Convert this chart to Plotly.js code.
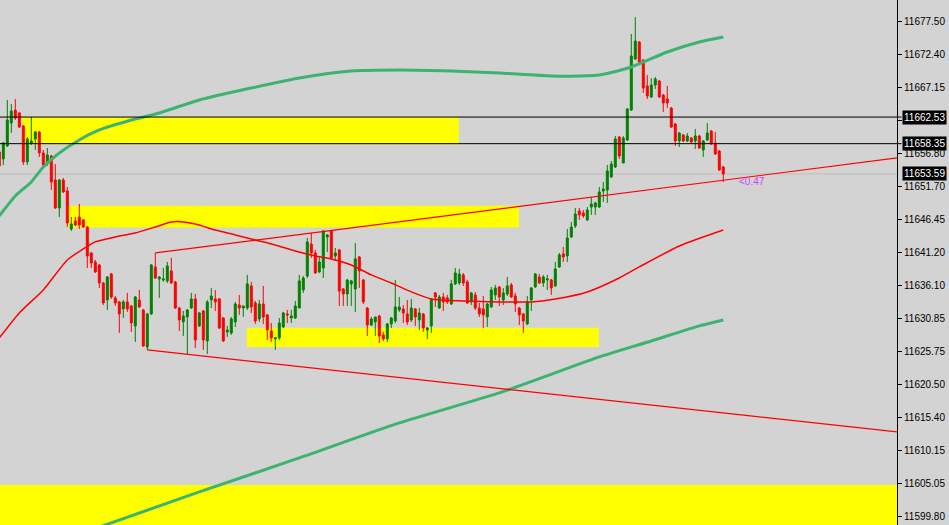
<!DOCTYPE html>
<html>
<head>
<meta charset="utf-8">
<script src="https://cdn.plot.ly/plotly-3.0.1.min.js"></script>
<style>
html,body{margin:0;padding:0;background:#d3d3d3;}
#chart{width:949px;height:525px;}
</style>
</head>
<body>
<div id="chart"></div>
<script>
// ---- candle data (index -1 .. 180) ----
const firstIndex = -1;
const open = [11657.05,11655.95,11657.99,11661.60,11663.64,11663.17,11661.13,11655.48,11658.46,11659.09,
11660.19,11656.90,11655.16,11656.42,11652.65,11648.25,11652.65,11650.92,11644.96,11646.21,
11646.84,11646.37,11645.27,11641.19,11639.78,11639.30,11636.48,11633.81,11637.89,11634.13,
11633.50,11632.40,11633.50,11632.87,11629.73,11633.81,11632.24,11626.43,11631.61,11638.99,
11637.11,11636.95,11636.80,11638.37,11636.64,11632.55,11630.36,11631.14,11632.55,11633.97,
11629.73,11632.08,11627.37,11633.81,11633.97,11633.97,11630.98,11628.79,11628.63,11630.36,
11633.02,11632.55,11632.55,11636.01,11633.34,11630.83,11633.18,11631.46,11628.94,11627.69,
11627.85,11629.57,11631.61,11630.98,11630.98,11632.55,11635.38,11637.57,11642.60,11641.19,
11638.21,11638.84,11643.70,11644.64,11640.72,11641.66,11635.54,11634.75,11636.33,11635.54,
11640.56,11636.95,11632.55,11629.88,11630.36,11631.30,11628.32,11627.69,11630.04,11630.51,
11632.24,11632.40,11631.61,11630.67,11632.40,11630.67,11631.61,11629.10,11629.73,11634.91,
11632.55,11634.28,11634.13,11633.18,11636.33,11636.48,11637.74,11636.64,11633.50,11634.60,
11632.55,11632.40,11631.14,11632.71,11634.60,11635.85,11633.81,11634.75,11636.17,11634.44,
11632.55,11631.61,11630.04,11633.81,11635.85,11637.42,11636.48,11636.95,11636.95,11636.01,
11638.99,11641.03,11640.72,11643.70,11645.43,11647.78,11647.47,11646.37,11648.41,11648.41,
11648.41,11650.92,11651.08,11653.12,11654.69,11659.40,11655.32,11658.93,11663.64,11671.65,
11674.32,11671.49,11667.41,11665.68,11667.56,11668.19,11665.99,11665.37,11663.95,11661.44,
11658.77,11659.72,11658.77,11659.24,11658.77,11659.56,11657.36,11658.93,11660.34,11658.46,
11657.20,11654.69];
const high = [11657.36,11658.62,11665.21,11664.58,11665.37,11663.33,11661.28,11659.40,11662.54,11660.34,
11660.34,11657.36,11657.67,11656.58,11655.16,11652.81,11652.97,11651.55,11646.84,11646.84,
11648.88,11646.53,11645.43,11641.35,11640.09,11639.46,11636.64,11637.57,11638.05,11634.44,
11633.65,11633.81,11634.91,11633.02,11634.44,11635.38,11632.40,11631.77,11639.46,11641.19,
11637.57,11638.84,11639.78,11640.41,11636.80,11632.71,11632.08,11632.40,11634.91,11634.75,
11631.93,11632.24,11633.81,11635.69,11635.38,11634.13,11631.14,11629.73,11631.14,11633.50,
11634.60,11632.87,11637.74,11636.64,11633.65,11633.81,11636.01,11631.61,11630.20,11628.00,
11630.98,11631.93,11632.24,11632.24,11633.65,11637.74,11637.57,11643.54,11644.33,11641.66,
11640.56,11644.80,11644.17,11644.80,11641.97,11641.82,11635.69,11637.11,11636.95,11642.76,
11640.72,11637.11,11632.71,11631.14,11631.14,11631.46,11628.79,11630.20,11631.14,11636.95,
11634.28,11633.02,11633.81,11633.97,11632.55,11632.55,11631.77,11629.57,11634.13,11635.07,
11634.60,11634.91,11634.60,11636.95,11638.84,11638.68,11638.05,11636.95,11635.07,11635.07,
11633.34,11634.44,11633.34,11635.85,11636.17,11636.01,11635.69,11637.42,11636.48,11634.91,
11632.71,11631.77,11634.44,11635.85,11638.05,11637.89,11637.74,11637.74,11637.11,11639.78,
11641.19,11642.13,11644.96,11646.06,11648.25,11648.25,11647.94,11648.41,11649.98,11649.20,
11651.55,11652.34,11655.00,11655.63,11659.56,11659.56,11659.56,11663.95,11675.57,11678.24,
11674.47,11671.65,11669.13,11668.66,11668.82,11668.35,11666.15,11667.41,11664.11,11661.60,
11660.19,11659.87,11660.03,11659.40,11660.66,11659.72,11658.93,11661.60,11660.50,11660.19,
11657.36,11654.85];
const low = [11654.53,11655.00,11657.83,11660.03,11662.07,11660.81,11655.00,11655.00,11658.14,11657.36,
11656.26,11654.53,11654.85,11651.08,11648.10,11646.84,11650.61,11645.27,11644.64,11645.43,
11644.96,11645.11,11638.84,11638.84,11638.05,11635.69,11633.02,11632.24,11633.97,11632.87,
11628.63,11630.98,11631.93,11628.79,11627.22,11632.55,11626.43,11625.96,11631.46,11637.11,
11634.13,11636.64,11636.48,11636.33,11632.40,11628.94,11628.16,11625.17,11632.40,11626.27,
11629.57,11625.96,11625.33,11632.55,11632.08,11629.26,11627.22,11628.00,11628.32,11629.57,
11631.46,11631.14,11632.24,11631.77,11630.04,11630.36,11630.04,11627.53,11627.22,11625.96,
11627.53,11629.41,11630.20,11630.20,11630.83,11632.55,11634.91,11637.26,11640.41,11637.89,
11638.05,11637.26,11641.35,11640.25,11639.93,11632.87,11632.87,11632.87,11632.87,11631.93,
11635.69,11633.18,11628.16,11629.73,11628.16,11627.06,11627.37,11627.22,11629.41,11630.20,
11631.93,11630.20,11629.88,11630.36,11629.73,11629.10,11628.79,11627.69,11628.63,11632.71,
11632.40,11632.08,11633.18,11633.02,11636.17,11636.17,11636.01,11633.18,11633.02,11632.24,
11631.14,11629.41,11629.57,11632.55,11633.81,11632.87,11633.02,11634.44,11634.13,11631.93,
11629.88,11628.63,11629.88,11632.08,11635.69,11636.33,11635.85,11635.38,11634.60,11635.85,
11638.84,11639.78,11639.78,11643.54,11645.11,11646.37,11646.69,11646.21,11647.16,11647.16,
11648.25,11649.20,11649.04,11652.97,11654.53,11655.95,11655.32,11658.77,11663.48,11671.49,
11671.02,11666.31,11665.37,11665.52,11666.94,11665.52,11663.33,11663.95,11660.81,11657.99,
11657.83,11658.62,11658.62,11658.46,11657.52,11657.52,11656.26,11658.77,11658.14,11656.58,
11654.06,11652.34];
const close = [11654.85,11658.46,11662.07,11663.48,11662.38,11660.97,11655.48,11659.09,11658.77,11660.19,
11656.90,11655.00,11656.58,11652.34,11648.25,11652.65,11650.77,11645.90,11645.74,11645.58,
11645.58,11645.27,11640.72,11639.62,11638.21,11636.48,11633.34,11637.42,11634.28,11633.34,
11631.61,11633.50,11632.40,11630.20,11634.28,11632.71,11626.59,11631.61,11639.30,11637.26,
11637.42,11637.11,11639.15,11636.48,11632.55,11630.67,11631.30,11632.24,11633.97,11627.53,
11631.77,11627.53,11633.50,11634.44,11633.50,11629.41,11627.37,11629.10,11630.83,11633.18,
11632.55,11632.87,11636.33,11632.71,11630.51,11633.18,11631.14,11629.10,11627.85,11627.85,
11630.20,11631.77,11631.46,11631.30,11632.87,11636.80,11637.26,11642.92,11641.19,11638.05,
11639.78,11644.64,11644.02,11640.41,11641.19,11635.22,11634.75,11636.95,11636.80,11640.25,
11638.37,11633.50,11629.88,11630.83,11631.14,11628.16,11627.69,11630.04,11630.98,11632.71,
11632.71,11631.77,11630.36,11632.55,11631.14,11631.77,11629.41,11629.41,11633.97,11634.28,
11634.28,11633.50,11633.50,11636.33,11638.05,11637.89,11636.48,11633.34,11634.91,11632.55,
11631.61,11631.46,11633.18,11635.38,11635.69,11634.28,11634.91,11636.01,11634.28,11633.18,
11631.46,11630.51,11633.50,11635.69,11637.89,11636.48,11637.42,11637.11,11635.69,11638.68,
11640.88,11640.56,11643.54,11645.27,11647.31,11647.16,11647.00,11647.94,11648.88,11649.04,
11650.77,11651.24,11654.06,11655.16,11659.09,11656.42,11659.24,11663.80,11672.12,11674.47,
11671.18,11667.09,11665.84,11667.56,11668.51,11665.68,11664.74,11664.74,11660.97,11658.77,
11660.03,11658.77,11659.56,11658.62,11659.56,11657.67,11658.77,11660.03,11658.30,11656.73,
11654.22,11653.59];

// ---- moving averages (read at sampled candle indices) ----
const maSlowIdx = [-1,3,7,10,14,19,24,32,39,49,62,74,87,99,112,124,137,149,157,166,174,180];
const maSlowVal = [11647.00,11650.14,11652.34,11654.69,11656.89,11658.93,11660.50,11662.07,11663.17,11665.21,
11667.09,11668.66,11669.76,11669.92,11669.76,11669.45,11668.98,11669.13,11670.39,11672.75,11674.32,11675.10];
const maMidIdx = [-1,4,10,16,20,23,28,33,38,42,45,48,53,58,63,68,73,78,82,87,92,97,102,107,115,124,132,138,146,154,159,169,180];
const maMidVal = [11627.84,11631.77,11635.38,11640.09,11641.82,11642.92,11643.70,11644.33,11645.27,11646.06,
11646.06,11645.74,11644.80,11644.02,11643.23,11642.44,11641.50,11640.72,11640.25,11639.30,11637.74,11636.48,
11635.07,11633.97,11633.65,11633.50,11633.50,11633.97,11635.07,11637.26,11638.99,11642.29,11644.80];
const maLongIdx = [22,49,74,99,124,149,162,174,180];
const maLongVal = [11597.70,11603.67,11609.00,11614.50,11619.21,11624.86,11627.37,11629.73,11630.67];

// ---- trend channel ----
const upperTrendIdx = [38,224];
const upperTrendVal = [11641.19,11656.15];
const lowerTrendIdx = [36,224];
const lowerTrendVal = [11625.96,11613.05];

// ---- zones (index range, price range) ----
const zoneFrom = [4.7,16.2,60.9,-3];
const zoneTo = [113.9,128.9,148.9,230];
const zoneTop = [11662.53,11648.61,11629.46,11604.76];
const zoneBottom = [11658.35,11645.17,11626.43,11590.00];

// ---- horizontal levels ----
const levelPrices = [11662.53,11658.35];
const bidPrice = 11653.59;
const distanceLabel = '<0.47';
const distanceIdx = 183.4;
const distancePrice = 11652.45;

// ---- right axis ticks ----
const tickValues = [11677.50,11672.40,11667.15,11662.05,11656.80,11651.70,11646.45,11641.20,11636.10,11630.85,11625.75,11620.50,11615.40,11610.15,11605.05,11599.80];
const tickLabels = tickValues.map(v => v.toFixed(2));

const idx = open.map((_, k) => firstIndex + k);

const traces = [
  {type:'scatter', mode:'lines', x:maLongIdx, y:maLongVal, line:{color:'#3cb371', width:3, shape:'spline', smoothing:0.6}, hoverinfo:'skip'},
  {type:'scatter', mode:'lines', x:maSlowIdx, y:maSlowVal, line:{color:'#3cb371', width:3, shape:'spline', smoothing:0.6}, hoverinfo:'skip'},
  {type:'scatter', mode:'lines', x:maMidIdx, y:maMidVal, line:{color:'#ff0000', width:1.5, shape:'spline', smoothing:0.6}, hoverinfo:'skip'},
  {type:'scatter', mode:'lines', x:upperTrendIdx, y:upperTrendVal, line:{color:'#ff0000', width:1.2}, hoverinfo:'skip'},
  {type:'scatter', mode:'lines', x:lowerTrendIdx, y:lowerTrendVal, line:{color:'#ff0000', width:1.2}, hoverinfo:'skip'},
  {type:'candlestick', x:idx, open:open, high:high, low:low, close:close,
   increasing:{line:{color:'#008000', width:1}, fillcolor:'#008000'},
   decreasing:{line:{color:'#ff0000', width:1}, fillcolor:'#ff0000'},
   whiskerwidth:0, hoverinfo:'skip'}
];

const shapes = [];
for (let k = 0; k < zoneFrom.length; k++) {
  shapes.push({type:'rect', layer:'below', xref:'x', yref:'y', x0:zoneFrom[k], x1:zoneTo[k], y0:zoneBottom[k], y1:zoneTop[k], fillcolor:'#ffff00', line:{width:0}});
}
shapes.push({type:'line', layer:'below', xref:'paper', x0:0, x1:1, yref:'y', y0:bidPrice, y1:bidPrice, line:{color:'#bdbdbd', width:1}});
levelPrices.forEach(p => shapes.push({type:'line', layer:'above', xref:'paper', x0:0, x1:1.005, yref:'y', y0:p, y1:p, line:{color:'#000000', width:1}}));

const annotations = [];
levelPrices.concat([bidPrice]).forEach(p => annotations.push({
  xref:'paper', x:1, xanchor:'left', xshift:5, yref:'y', y:p, yanchor:'middle',
  text:p.toFixed(2), showarrow:false, bgcolor:'#000000', borderpad:1,
  font:{family:'Liberation Sans, Arial, sans-serif', size:10, color:'#ffffff'}
}));
annotations.push({xref:'x', x:distanceIdx, yref:'y', y:distancePrice, xanchor:'left', yanchor:'middle',
  text:distanceLabel.replace('<','&lt;'), showarrow:false,
  font:{family:'Liberation Sans, Arial, sans-serif', size:10, color:'#cc44ff'}});

const layout = {
  width:949, height:525,
  margin:{l:0, r:52, t:0, b:0, pad:0},
  paper_bgcolor:'#d3d3d3', plot_bgcolor:'#d3d3d3',
  showlegend:false,
  xaxis:{range:[-0.825, 223.43], visible:false, showgrid:false, zeroline:false, fixedrange:true, rangeslider:{visible:false}},
  yaxis:{side:'right', range:[11598.47, 11680.91], tickmode:'array', tickvals:tickValues, ticktext:tickLabels,
         ticks:'outside', ticklen:4, tickcolor:'#000', tickwidth:1, showline:true, linecolor:'#000', linewidth:1,
         showgrid:false, zeroline:false, fixedrange:true,
         tickfont:{family:'Liberation Sans, Arial, sans-serif', size:10, color:'#000'}},
  shapes:shapes, annotations:annotations
};

Plotly.newPlot('chart', traces, layout, {staticPlot:true, displayModeBar:false});
</script>
</body>
</html>
